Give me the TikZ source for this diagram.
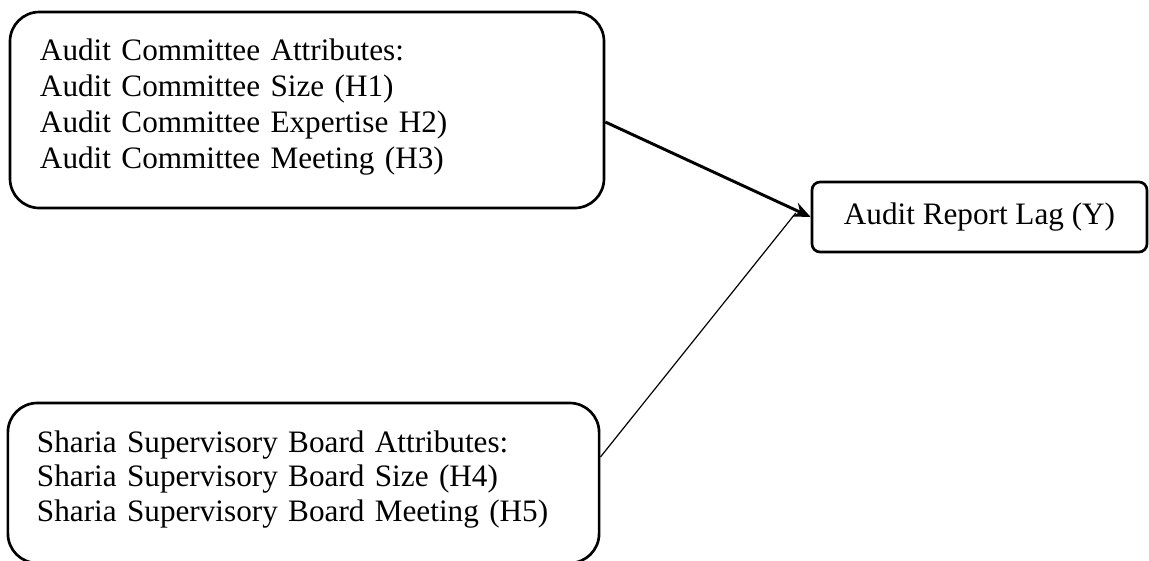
\documentclass[tikz,border=0pt]{standalone}
\usepackage{fontspec}
\setmainfont{Liberation Serif}
\usepackage{tikz}
\usetikzlibrary{shapes,arrows,arrows.meta,positioning}

\tikzset{
  varbox/.style={draw, line width=1pt, rounded corners=11pt, align=left,
    font=\fontsize{11.7}{13.5}\selectfont, inner xsep=11.25pt},
  lagbox/.style={draw, line width=1pt, rounded corners=3pt, align=center,
    font=\fontsize{11.7}{13.5}\selectfont},
  mainarrow/.style={line width=1.1pt, -{Stealth[length=6.5pt,width=5.5pt]}},
  sidearrow/.style={line width=0.45pt}
}
% extra depth under the last line of a box
\newcommand{\lastdepth}[1]{\rule[-#1]{0pt}{0pt}}

\begin{document}
\begin{tikzpicture}[x=0.375pt, y=-0.375pt]
      \useasboundingbox (0,0) rectangle (1149,560);
       % boxes
       \node[varbox, text width=200.25pt, minimum height=73.5pt] (acbox) at (307,110)
         {Audit Committee Attributes:\\
          Audit Committee Size (H1)\\
          Audit Committee Expertise H2)\\
          Audit Committee Meeting (H3)\lastdepth{5.05pt}};
       \node[varbox, font=\fontsize{11.7}{12.9}\selectfont, inner xsep=10.9pt,
         text width=199.9pt, minimum height=60pt] (ssbbox) at (303.5,483)
         {Sharia Supervisory Board Attributes:\\
          Sharia Supervisory Board Size (H4)\\
          Sharia Supervisory Board Meeting (H5)\lastdepth{5.4pt}};
       \node[lagbox, minimum width=125.6pt, minimum height=26.25pt] (lag) at (979.5,217)
         {Audit Report Lag (Y)};
       \coordinate (join) at ([xshift=-5.6pt, yshift=1.5pt]lag.west);

       % arrows
       \draw[mainarrow] ([yshift=-4.5pt]acbox.east) -- (lag.west);
       \draw[sidearrow] ([yshift=9.75pt]ssbbox.east) -- (join);
\end{tikzpicture}
\end{document}
